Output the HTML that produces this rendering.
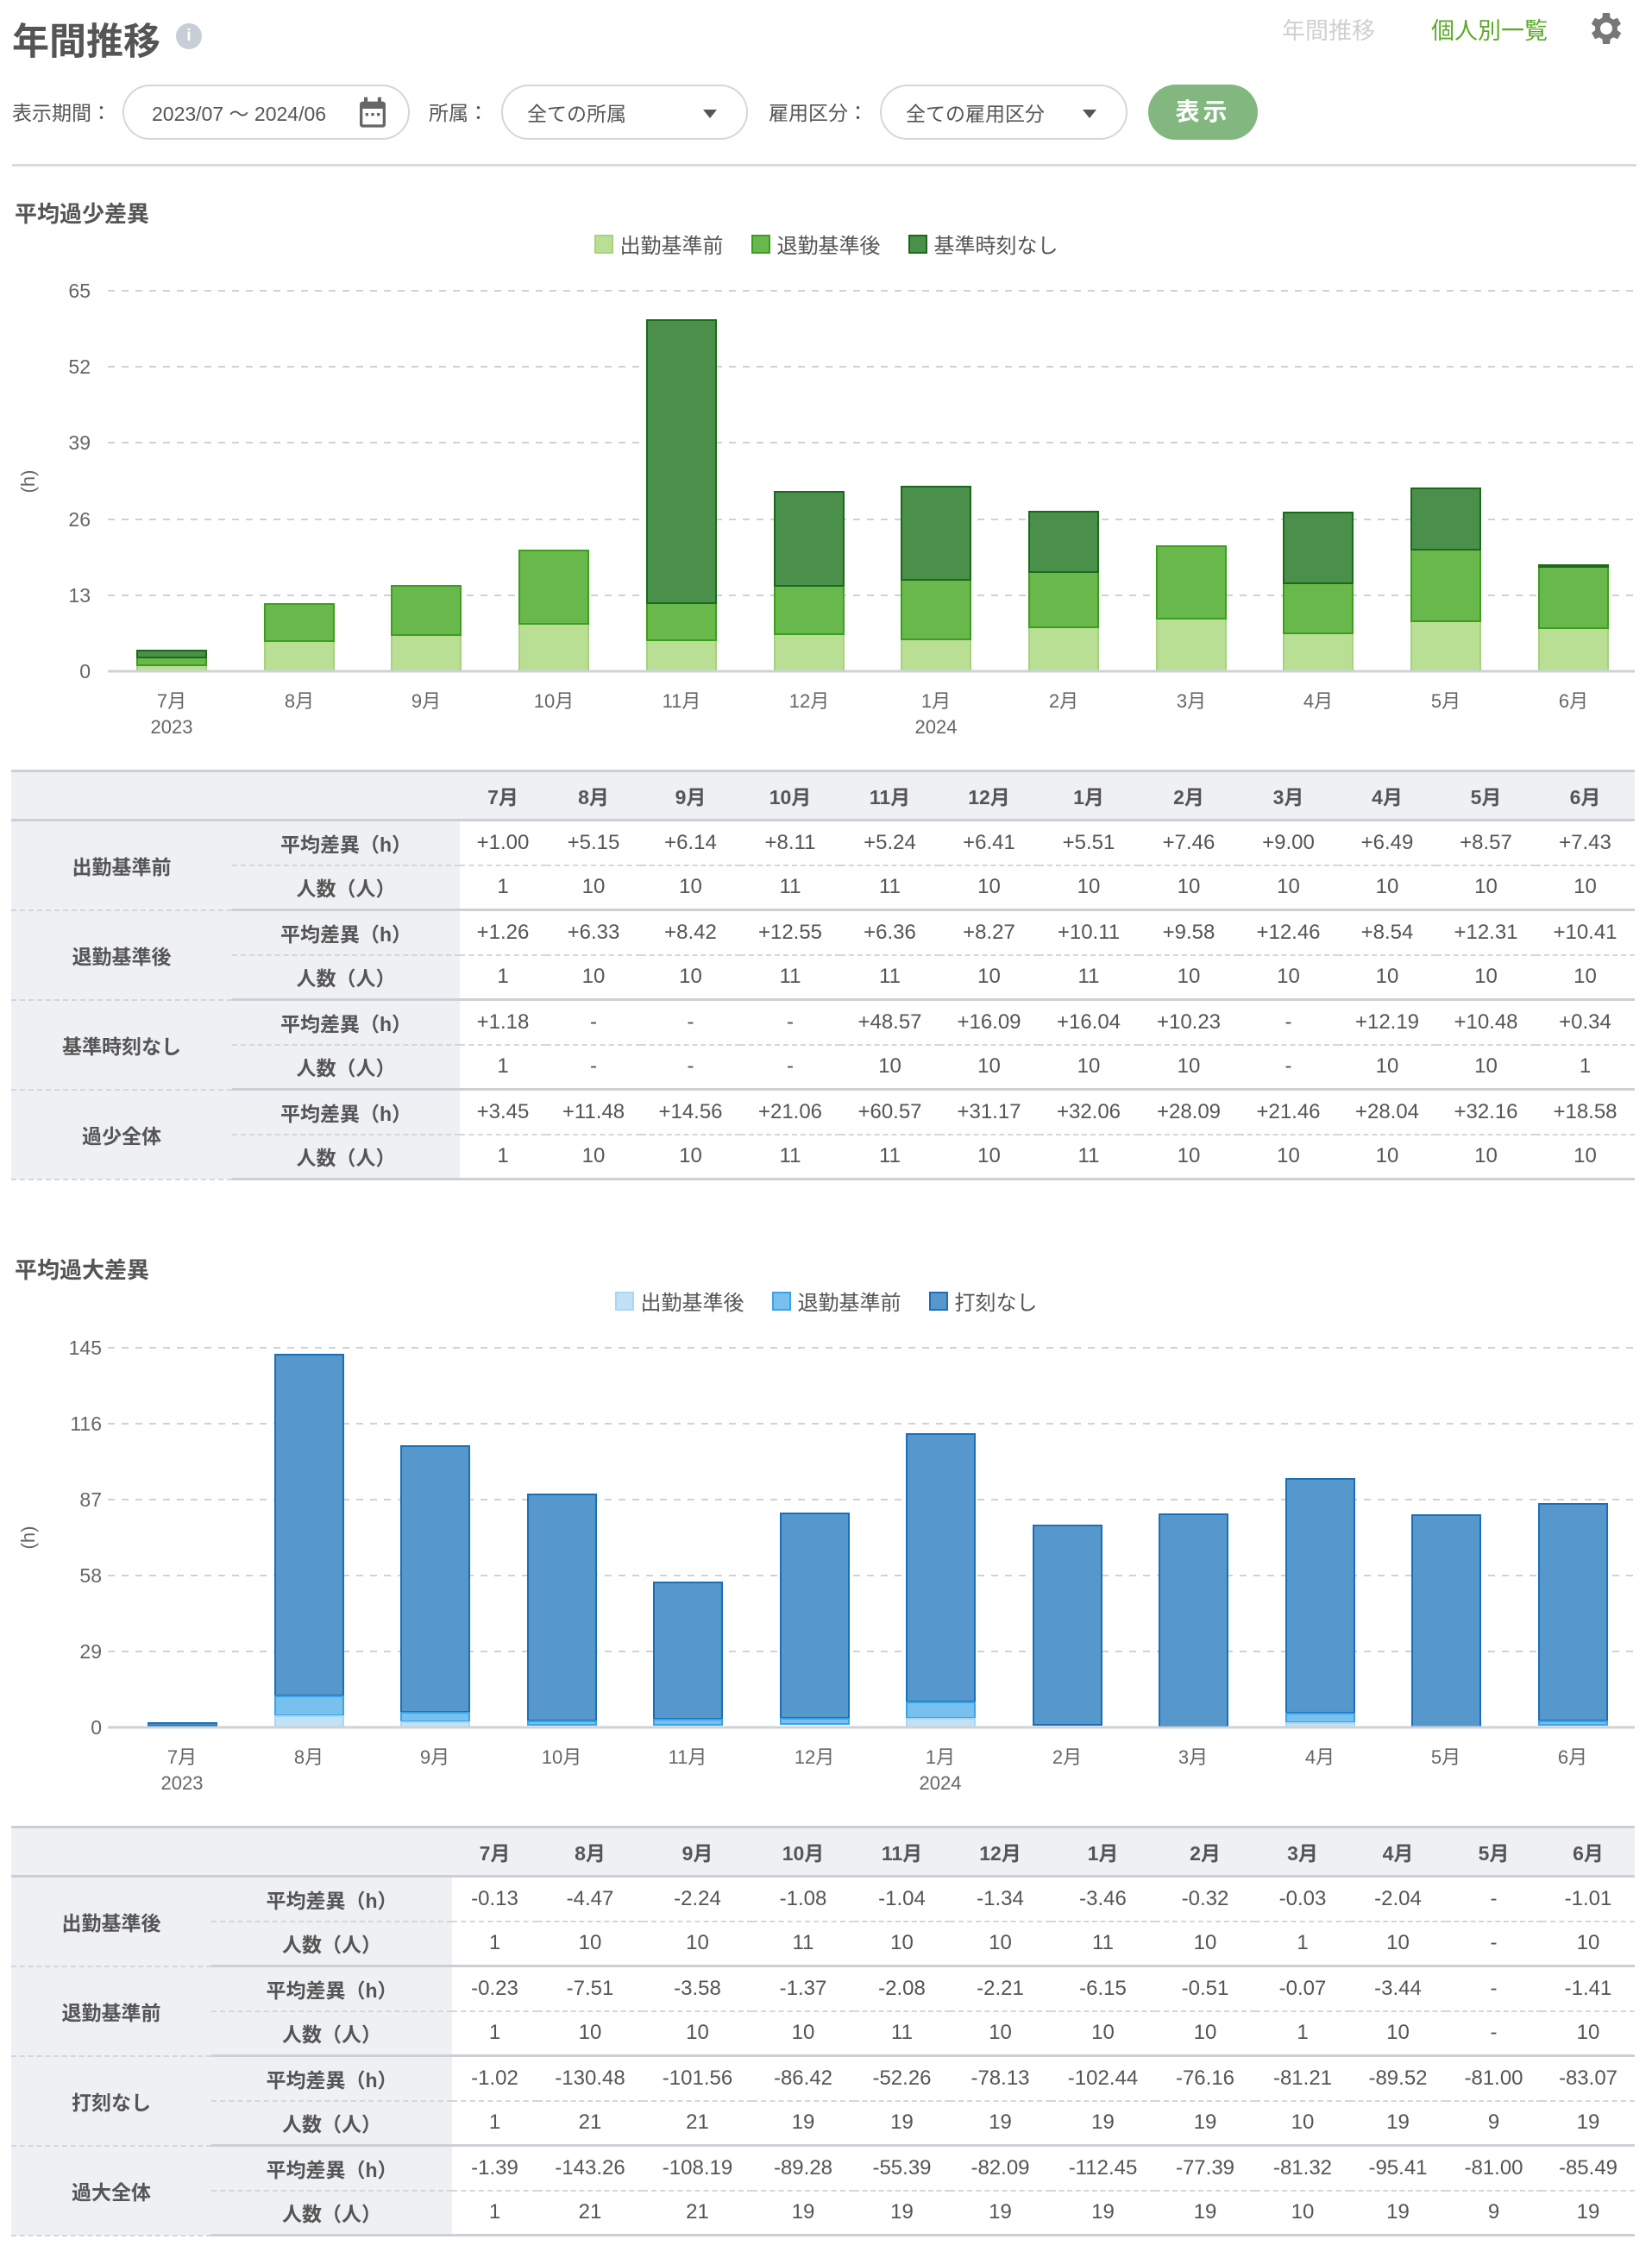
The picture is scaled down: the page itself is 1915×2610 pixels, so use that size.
<!DOCTYPE html>
<html><head><meta charset="utf-8">
<style>
*{margin:0;padding:0;box-sizing:border-box}
body{width:1915px;height:2610px;background:#fff;font-family:"Liberation Sans","Noto Sans CJK JP",sans-serif;color:#555;position:relative;overflow:hidden}
.abs{position:absolute}
.pill{position:absolute;top:98px;height:64px;border:2px solid #d3d7dc;border-radius:32px;font-size:23px;color:#555;display:flex;align-items:center}
.lbl{position:absolute;top:112px;font-size:23px;color:#555}
.caret{position:absolute;width:0;height:0;border-left:8px solid transparent;border-right:8px solid transparent;border-top:10px solid #555;top:27px}
table{position:absolute;left:13px;width:1882px;border-collapse:collapse;table-layout:fixed;font-size:23px;color:#555}
td,th{text-align:center;height:52px;padding:0;white-space:nowrap}
td{font-size:24px}
thead th{height:57px;background:#eef0f3;font-weight:bold;border-top:3px solid #ccd0d5;border-bottom:3px solid #ccd0d5}
td.g{background:#eef0f3;font-weight:bold;border-bottom:3px solid #ccd0d5;font-size:23px}
td.s{background:#eef0f3;font-weight:bold;font-size:23px}
tr.r1 td{border-bottom:2px dashed #d3d7dc}
tr.r2 td{border-bottom:3px solid #ccd0d5}
.h2{position:absolute;left:17px;font-size:26px;font-weight:bold;color:#555}
.leg{position:absolute;left:0;width:1915px;display:flex;justify-content:center;font-size:24px;color:#555}
.leg span{display:inline-flex;align-items:center;margin:0 16px}
.leg i{display:inline-block;width:22px;height:22px;margin-right:8px}
</style></head><body>

<div class="abs" style="left:14px;top:14px;font-size:43px;font-weight:bold;color:#555">年間推移</div>
<div class="abs" style="left:204px;top:27px;width:30px;height:30px;border-radius:50%;background:#c8ced6;color:#fff;font-size:19px;font-weight:bold;text-align:center;line-height:30px">i</div>
<div class="abs" style="left:1486px;top:14px;font-size:27px;color:#d0d0d0">年間推移</div>
<div class="abs" style="left:1659px;top:14px;font-size:27px;color:#5aaa28">個人別一覧</div>
<svg class="abs" style="left:1836px;top:9px" width="48" height="48" viewBox="0 0 24 24"><path fill="#777" d="M19.4 13a7.5 7.5 0 0 0 0-2l2.1-1.6-2-3.5-2.5 1a7.4 7.4 0 0 0-1.7-1L15 3h-4l-.4 2.9a7.4 7.4 0 0 0-1.7 1l-2.5-1-2 3.5L6.6 11a7.5 7.5 0 0 0 0 2l-2.1 1.6 2 3.5 2.5-1a7.4 7.4 0 0 0 1.7 1L11 21h4l.4-2.9a7.4 7.4 0 0 0 1.7-1l2.5 1 2-3.5zM13 15.5a3.5 3.5 0 1 1 0-7 3.5 3.5 0 0 1 0 7z"/></svg>

<div class="lbl" style="left:14px">表示期間：</div>
<div class="pill" style="left:142px;width:333px;padding-left:32px">2023/07 ～ 2024/06
<svg class="abs" style="left:268px;top:11px" width="40" height="40" viewBox="0 0 24 24"><rect x="3" y="4" width="18" height="18" rx="2" fill="#666"/><rect x="5" y="9" width="14" height="11" fill="#fff"/><rect x="6" y="1" width="2.5" height="5" fill="#666"/><rect x="15.5" y="1" width="2.5" height="5" fill="#666"/><rect x="7" y="12" width="2" height="2" fill="#666"/><rect x="11" y="12" width="2" height="2" fill="#666"/><rect x="15" y="12" width="2" height="2" fill="#666"/></svg></div>
<div class="lbl" style="left:497px">所属：</div>
<div class="pill" style="left:581px;width:286px;padding-left:28px">全ての所属<div class="caret" style="left:232px"></div></div>
<div class="lbl" style="left:891px">雇用区分：</div>
<div class="pill" style="left:1020px;width:287px;padding-left:28px">全ての雇用区分<div class="caret" style="left:233px"></div></div>
<div class="abs" style="left:1331px;top:98px;width:127px;height:64px;border-radius:32px;background:#82b880;color:#fff;font-size:28px;font-weight:bold;text-align:center;line-height:64px;letter-spacing:4px">表示</div>
<div class="abs" style="left:14px;top:190px;width:1883px;height:3px;background:#d8dbdf"></div>

<!-- Chart 1 -->
<div class="h2" style="top:228px">平均過少差異</div>
<div class="leg" style="top:265px"><span><i style="background:#b9df95;border:2px solid #a5d27c"></i>出勤基準前</span><span><i style="background:#68b84c;border:2px solid #3c9e1e"></i>退勤基準後</span><span><i style="background:#4a8f4a;border:2px solid #1b6a1b"></i>基準時刻なし</span></div>
<svg class="abs" style="left:0;top:0" width="1915" height="900" font-family="Liberation Sans, Noto Sans CJK JP, sans-serif">
<g stroke="#cdd2d8" stroke-width="2" stroke-dasharray="8,8">
<line x1="125" y1="337" x2="1895" y2="337"/><line x1="125" y1="425" x2="1895" y2="425"/><line x1="125" y1="513" x2="1895" y2="513"/><line x1="125" y1="602" x2="1895" y2="602"/><line x1="125" y1="690" x2="1895" y2="690"/></g>
<g font-size="23" fill="#666" text-anchor="end"><text x="105" y="345">65</text><text x="105" y="433">52</text><text x="105" y="521">39</text><text x="105" y="610">26</text><text x="105" y="698">13</text><text x="105" y="786">0</text></g>
<text x="0" y="0" font-size="22" fill="#666" text-anchor="middle" transform="translate(40,558) rotate(-90)">(h)</text>
<g stroke-width="2">
<g fill="#b9df95" stroke="#a5d27c">
<rect x="159" y="771" width="80" height="7"/><rect x="307" y="743" width="80" height="35"/><rect x="454" y="736" width="80" height="42"/><rect x="602" y="723" width="80" height="55"/><rect x="750" y="742" width="80" height="36"/><rect x="898" y="735" width="80" height="43"/><rect x="1045" y="741" width="80" height="37"/><rect x="1193" y="727" width="80" height="51"/><rect x="1341" y="717" width="80" height="61"/><rect x="1488" y="734" width="80" height="44"/><rect x="1636" y="720" width="80" height="58"/><rect x="1784" y="728" width="80" height="50"/></g>
<g fill="#68b84c" stroke="#3c9e1e">
<rect x="159" y="762" width="80" height="9"/><rect x="307" y="700" width="80" height="43"/><rect x="454" y="679" width="80" height="57"/><rect x="602" y="638" width="80" height="85"/><rect x="750" y="699" width="80" height="43"/><rect x="898" y="679" width="80" height="56"/><rect x="1045" y="672" width="80" height="69"/><rect x="1193" y="663" width="80" height="64"/><rect x="1341" y="633" width="80" height="84"/><rect x="1488" y="676" width="80" height="58"/><rect x="1636" y="637" width="80" height="83"/><rect x="1784" y="657" width="80" height="71"/></g>
<g fill="#4a8f4a" stroke="#1b6a1b">
<rect x="159" y="754" width="80" height="8"/><rect x="750" y="371" width="80" height="328"/><rect x="898" y="570" width="80" height="109"/><rect x="1045" y="564" width="80" height="108"/><rect x="1193" y="593" width="80" height="70"/><rect x="1488" y="594" width="80" height="82"/><rect x="1636" y="566" width="80" height="71"/><rect x="1784" y="655" width="80" height="2"/></g>
</g>
<line x1="125" y1="778" x2="1895" y2="778" stroke="#cdd2d8" stroke-width="3"/>
<g font-size="22" fill="#666" text-anchor="middle">
<text x="199" y="820">7月</text><text x="199" y="850">2023</text><text x="347" y="820">8月</text><text x="494" y="820">9月</text><text x="642" y="820">10月</text><text x="790" y="820">11月</text><text x="938" y="820">12月</text><text x="1085" y="820">1月</text><text x="1085" y="850">2024</text><text x="1233" y="820">2月</text><text x="1381" y="820">3月</text><text x="1528" y="820">4月</text><text x="1676" y="820">5月</text><text x="1824" y="820">6月</text></g>
</svg>

<table style="top:892px">
<colgroup><col style="width:256px"><col style="width:264px"><col style="width:100px"><col style="width:110px"><col style="width:115px"><col style="width:116px"><col style="width:115px"><col style="width:115px"><col style="width:116px"><col style="width:116px"><col style="width:115px"><col style="width:114px"><col style="width:115px"><col style="width:115px"></colgroup>
<thead><tr><th></th><th></th><th>7月</th><th>8月</th><th>9月</th><th>10月</th><th>11月</th><th>12月</th><th>1月</th><th>2月</th><th>3月</th><th>4月</th><th>5月</th><th>6月</th></tr></thead>
<tbody>
<tr class="r1"><td class="g" rowspan="2">出勤基準前</td><td class="s">平均差異（h）</td><td>+1.00</td><td>+5.15</td><td>+6.14</td><td>+8.11</td><td>+5.24</td><td>+6.41</td><td>+5.51</td><td>+7.46</td><td>+9.00</td><td>+6.49</td><td>+8.57</td><td>+7.43</td></tr>
<tr class="r2"><td class="s">人数（人）</td><td>1</td><td>10</td><td>10</td><td>11</td><td>11</td><td>10</td><td>10</td><td>10</td><td>10</td><td>10</td><td>10</td><td>10</td></tr>
<tr class="r1"><td class="g" rowspan="2">退勤基準後</td><td class="s">平均差異（h）</td><td>+1.26</td><td>+6.33</td><td>+8.42</td><td>+12.55</td><td>+6.36</td><td>+8.27</td><td>+10.11</td><td>+9.58</td><td>+12.46</td><td>+8.54</td><td>+12.31</td><td>+10.41</td></tr>
<tr class="r2"><td class="s">人数（人）</td><td>1</td><td>10</td><td>10</td><td>11</td><td>11</td><td>10</td><td>11</td><td>10</td><td>10</td><td>10</td><td>10</td><td>10</td></tr>
<tr class="r1"><td class="g" rowspan="2">基準時刻なし</td><td class="s">平均差異（h）</td><td>+1.18</td><td>-</td><td>-</td><td>-</td><td>+48.57</td><td>+16.09</td><td>+16.04</td><td>+10.23</td><td>-</td><td>+12.19</td><td>+10.48</td><td>+0.34</td></tr>
<tr class="r2"><td class="s">人数（人）</td><td>1</td><td>-</td><td>-</td><td>-</td><td>10</td><td>10</td><td>10</td><td>10</td><td>-</td><td>10</td><td>10</td><td>1</td></tr>
<tr class="r1"><td class="g" rowspan="2">過少全体</td><td class="s">平均差異（h）</td><td>+3.45</td><td>+11.48</td><td>+14.56</td><td>+21.06</td><td>+60.57</td><td>+31.17</td><td>+32.06</td><td>+28.09</td><td>+21.46</td><td>+28.04</td><td>+32.16</td><td>+18.58</td></tr>
<tr class="r2"><td class="s">人数（人）</td><td>1</td><td>10</td><td>10</td><td>11</td><td>11</td><td>10</td><td>11</td><td>10</td><td>10</td><td>10</td><td>10</td><td>10</td></tr>
</tbody></table>

<!-- Chart 2 -->
<div class="h2" style="top:1452px">平均過大差異</div>
<div class="leg" style="top:1490px"><span><i style="background:#c0e2f6;border:2px solid #a9d6f3"></i>出勤基準後</span><span><i style="background:#78c0ee;border:2px solid #3aa3e8"></i>退勤基準前</span><span><i style="background:#5698cc;border:2px solid #1a6fb8"></i>打刻なし</span></div>
<svg class="abs" style="left:0;top:1500px" width="1915" height="600" font-family="Liberation Sans, Noto Sans CJK JP, sans-serif">
<g transform="translate(0,-1500)">
<g stroke="#cdd2d8" stroke-width="2" stroke-dasharray="8,8">
<line x1="125" y1="1562" x2="1895" y2="1562"/><line x1="125" y1="1650" x2="1895" y2="1650"/><line x1="125" y1="1738" x2="1895" y2="1738"/><line x1="125" y1="1826" x2="1895" y2="1826"/><line x1="125" y1="1914" x2="1895" y2="1914"/></g>
<g font-size="23" fill="#666" text-anchor="end"><text x="118" y="1570">145</text><text x="118" y="1658">116</text><text x="118" y="1746">87</text><text x="118" y="1834">58</text><text x="118" y="1922">29</text><text x="118" y="2010">0</text></g>
<text x="0" y="0" font-size="22" fill="#666" text-anchor="middle" transform="translate(40,1782) rotate(-90)">(h)</text>
<g stroke-width="2">
<g fill="#5698cc" stroke="#1a6fb8">
<rect x="172" y="1997" width="79" height="3"/><rect x="319" y="1570" width="79" height="395"/><rect x="465" y="1676" width="79" height="308"/><rect x="612" y="1732" width="79" height="262"/><rect x="758" y="1834" width="79" height="158"/><rect x="905" y="1754" width="79" height="237"/><rect x="1051" y="1662" width="79" height="310"/><rect x="1198" y="1768" width="79" height="231"/><rect x="1344" y="1755" width="79" height="246"/><rect x="1491" y="1714" width="79" height="271"/><rect x="1637" y="1756" width="79" height="246"/><rect x="1784" y="1743" width="79" height="251"/></g>
<g fill="#78c0ee" stroke="#3aa3e8">
<rect x="319" y="1966" width="79" height="22"/><rect x="465" y="1985" width="79" height="10"/><rect x="612" y="1995" width="79" height="4"/><rect x="758" y="1993" width="79" height="6"/><rect x="905" y="1992" width="79" height="6"/><rect x="1051" y="1973" width="79" height="18"/><rect x="1491" y="1986" width="79" height="10"/><rect x="1784" y="1995" width="79" height="4"/></g>
<g fill="#c0e2f6" stroke="#a9d6f3">
<rect x="319" y="1989" width="79" height="13"/><rect x="465" y="1996" width="79" height="6"/><rect x="1051" y="1992" width="79" height="10"/><rect x="1491" y="1997" width="79" height="5"/></g>
</g>
<line x1="125" y1="2002" x2="1895" y2="2002" stroke="#cdd2d8" stroke-width="3"/>
<g font-size="22" fill="#666" text-anchor="middle">
<text x="211" y="2044">7月</text><text x="211" y="2074">2023</text><text x="358" y="2044">8月</text><text x="504" y="2044">9月</text><text x="651" y="2044">10月</text><text x="797" y="2044">11月</text><text x="944" y="2044">12月</text><text x="1090" y="2044">1月</text><text x="1090" y="2074">2024</text><text x="1237" y="2044">2月</text><text x="1383" y="2044">3月</text><text x="1530" y="2044">4月</text><text x="1676" y="2044">5月</text><text x="1823" y="2044">6月</text></g>
</g></svg>

<table style="top:2116px">
<colgroup><col style="width:232px"><col style="width:279px"><col style="width:99px"><col style="width:122px"><col style="width:127px"><col style="width:118px"><col style="width:111px"><col style="width:117px"><col style="width:121px"><col style="width:116px"><col style="width:110px"><col style="width:111px"><col style="width:111px"><col style="width:108px"></colgroup>
<thead><tr><th></th><th></th><th>7月</th><th>8月</th><th>9月</th><th>10月</th><th>11月</th><th>12月</th><th>1月</th><th>2月</th><th>3月</th><th>4月</th><th>5月</th><th>6月</th></tr></thead>
<tbody>
<tr class="r1"><td class="g" rowspan="2">出勤基準後</td><td class="s">平均差異（h）</td><td>-0.13</td><td>-4.47</td><td>-2.24</td><td>-1.08</td><td>-1.04</td><td>-1.34</td><td>-3.46</td><td>-0.32</td><td>-0.03</td><td>-2.04</td><td>-</td><td>-1.01</td></tr>
<tr class="r2"><td class="s">人数（人）</td><td>1</td><td>10</td><td>10</td><td>11</td><td>10</td><td>10</td><td>11</td><td>10</td><td>1</td><td>10</td><td>-</td><td>10</td></tr>
<tr class="r1"><td class="g" rowspan="2">退勤基準前</td><td class="s">平均差異（h）</td><td>-0.23</td><td>-7.51</td><td>-3.58</td><td>-1.37</td><td>-2.08</td><td>-2.21</td><td>-6.15</td><td>-0.51</td><td>-0.07</td><td>-3.44</td><td>-</td><td>-1.41</td></tr>
<tr class="r2"><td class="s">人数（人）</td><td>1</td><td>10</td><td>10</td><td>10</td><td>11</td><td>10</td><td>10</td><td>10</td><td>1</td><td>10</td><td>-</td><td>10</td></tr>
<tr class="r1"><td class="g" rowspan="2">打刻なし</td><td class="s">平均差異（h）</td><td>-1.02</td><td>-130.48</td><td>-101.56</td><td>-86.42</td><td>-52.26</td><td>-78.13</td><td>-102.44</td><td>-76.16</td><td>-81.21</td><td>-89.52</td><td>-81.00</td><td>-83.07</td></tr>
<tr class="r2"><td class="s">人数（人）</td><td>1</td><td>21</td><td>21</td><td>19</td><td>19</td><td>19</td><td>19</td><td>19</td><td>10</td><td>19</td><td>9</td><td>19</td></tr>
<tr class="r1"><td class="g" rowspan="2">過大全体</td><td class="s">平均差異（h）</td><td>-1.39</td><td>-143.26</td><td>-108.19</td><td>-89.28</td><td>-55.39</td><td>-82.09</td><td>-112.45</td><td>-77.39</td><td>-81.32</td><td>-95.41</td><td>-81.00</td><td>-85.49</td></tr>
<tr class="r2"><td class="s">人数（人）</td><td>1</td><td>21</td><td>21</td><td>19</td><td>19</td><td>19</td><td>19</td><td>19</td><td>10</td><td>19</td><td>9</td><td>19</td></tr>
</tbody></table>
</body></html>
